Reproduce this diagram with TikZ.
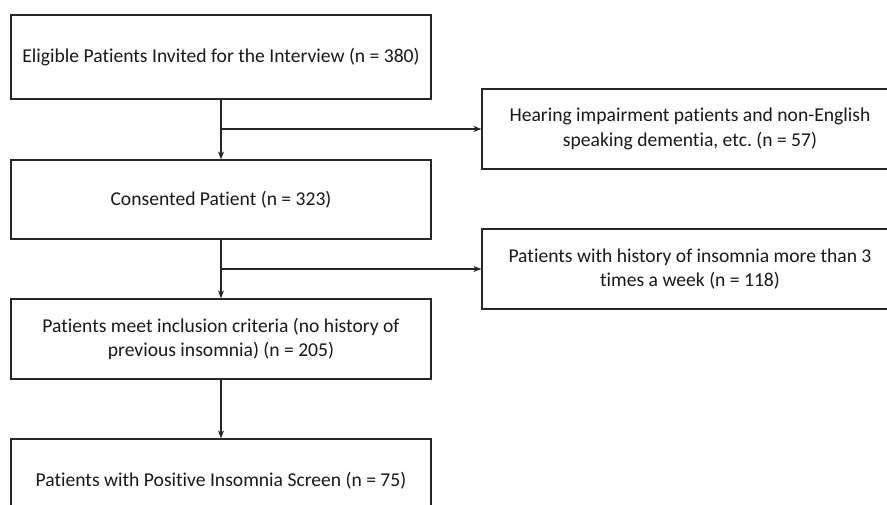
\documentclass[tikz,border=0pt]{standalone}
\usepackage{fontspec}
\setmainfont{Carlito}[RawFeature=-liga]
\usetikzlibrary{arrows.meta}
\frenchspacing
\begin{document}
\begin{tikzpicture}[x=1pt,y=-1pt,
  box/.style={draw=black!85,line width=1.2pt,rectangle,inner sep=0pt,align=center,
    font=\fontsize{19.6}{24.4}\selectfont,text=black!90},
  lbox/.style={box,minimum width=420pt,minimum height=80pt},
  rbox/.style={box,minimum width=416pt,minimum height=80pt},
  arr/.style={draw=black!85,line width=1.2pt,-{Stealth[length=8pt,width=6pt]}}]
\useasboundingbox (0,0) rectangle (887,505);
\clip (0,0) rectangle (887,505);
\fill[white] (0,0) rectangle (887,505);
\node[lbox,minimum height=84pt] (b1) at (221,57) {Eligible Patients Invited for the Interview (n = 380)};
\node[lbox,minimum height=79pt] (b2) at (221,199.5) {Consented Patient (n = 323)};
\node[lbox] (b3) at (221,339) {Patients meet inclusion criteria (no history of\\previous insomnia) (n = 205)};
\node[lbox,minimum height=84pt] (b4) at (221,481) {Patients with Positive Insomnia Screen (n = 75)};
\node[rbox] (r1) at (690,129) {Hearing impairment patients and non-English\\speaking dementia, etc. (n = 57)};
\node[rbox] (r2) at (690,269) {Patients with history of insomnia more than 3\\times a week (n = 118)};
\coordinate (j1) at (b1.south |- r1.west);
\coordinate (j2) at (b2.south |- r2.west);
\draw[arr] (b1.south) -- (b2.north);
\draw[arr] (j1) -- (r1.west);
\draw[arr] (b2.south) -- (b3.north);
\draw[arr] (j2) -- (r2.west);
\draw[arr] (b3.south) -- (b4.north);
\end{tikzpicture}
\end{document}
